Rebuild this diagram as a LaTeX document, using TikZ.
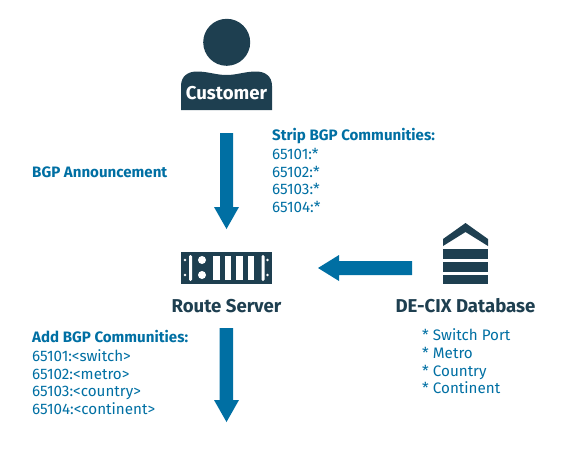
\documentclass[tikz,border=0pt]{standalone}
\usepackage{fontspec}
\setmainfont{Fira Sans}
\definecolor{navy}{HTML}{1E3F50}
\definecolor{blu}{HTML}{006FA3}
\tikzset{
  x=1pt,y=-1pt,
  dark/.style={fill=navy,draw=none},
  hole/.style={fill=white,draw=none},
  flow/.style={fill=blu,draw=none},
  head/.style={text=navy,font=\fontsize{18.6}{22}\selectfont\bfseries,inner sep=0pt,anchor=base},
  bluetitle/.style={text=blu,font=\fontsize{15.1}{18}\selectfont\bfseries,inner sep=0pt,anchor=base west},
  bluetext/.style={text=blu,font=\fontsize{15.2}{18}\selectfont,inner sep=0pt,anchor=base west},
}
\begin{document}
\begin{tikzpicture}
\useasboundingbox (0,0) rectangle (567,451);
% customer
\fill[dark] (226.7,42.3) circle (23.5);
\fill[dark] (181,110) -- (181,86) .. controls (181,76) and (188,71.5) .. (197,71.5)
  .. controls (208,71.5) and (216,75) .. (226.5,75)
  .. controls (237,75) and (245,71.5) .. (256,71.5)
  .. controls (265,71.5) and (272,76) .. (272,86) -- (272,110) -- cycle;
\node[head,text=white] (customer) at (226.5,99) {Customer};
% arrows
\fill[flow] (220,133) -- (233,133) -- (233,207) -- (239,207) -- (226.5,229) -- (214,207) -- (220,207) -- cycle;
\fill[flow] (219.5,328) -- (233,328) -- (233,400) -- (239,400) -- (226.5,422) -- (214,400) -- (219.5,400) -- cycle;
\fill[flow] (412,261) -- (412,275) -- (339,275) -- (339,281) -- (318,268) -- (339,255) -- (339,261) -- cycle;
% server
\fill[dark] (181,252) rectangle (272,284);
\foreach \y in {260,275}{
  \fill[hole] (185,\y) circle (1.3);
  \fill[hole] (267.5,\y) circle (1.3);
  \fill[hole] (202,\y) circle (4);
}
\fill[hole,rounded corners=1.4] (189,255) rectangle (192,281);
\fill[hole,rounded corners=1.4] (261.5,255) rectangle (264.5,281);
\foreach \x in {213,224.5,236,247.5}{
  \fill[hole] (\x,256) rectangle +(6.5,24);
}
\node[head] (server) at (226.5,312) {Route Server};
% database
\fill[dark] (443,239) -- (465.5,223) -- (488,239) -- (488,246) -- (465.5,232) -- (443,246) -- cycle;
\fill[dark] (443,249) rectangle (488,259);
\fill[dark] (443,262) rectangle (488,272);
\fill[dark] (443,275) rectangle (488,284);
\node[head] (db) at (465.5,312) {DE-CIX Database};
% texts
\node[bluetitle] (ann) at (32,177.5) {BGP Announcement};
\node[bluetitle] (strip) at (272,140.5) {Strip BGP Communities:};
\node[bluetext] (s1) at (272,159) {65101:*};
\node[bluetext] (s2) at (272,177) {65102:*};
\node[bluetext] (s3) at (272,194.7) {65103:*};
\node[bluetext] (s4) at (272,212.5) {65104:*};
\node[bluetitle] (add) at (32,342.7) {Add BGP Communities:};
\node[bluetext] (a1) at (32,361) {65101:<switch>};
\node[bluetext] (a2) at (32,379) {65102:<metro>};
\node[bluetext] (a3) at (32,396.7) {65103:<country>};
\node[bluetext] (a4) at (32,414.5) {65104:<continent>};
\node[bluetext] (d1) at (422,340) {* Switch Port};
\node[bluetext] (d2) at (422,358) {* Metro};
\node[bluetext] (d3) at (422,376) {* Country};
\node[bluetext] (d4) at (422,393.7) {* Continent};
\end{tikzpicture}
\end{document}
